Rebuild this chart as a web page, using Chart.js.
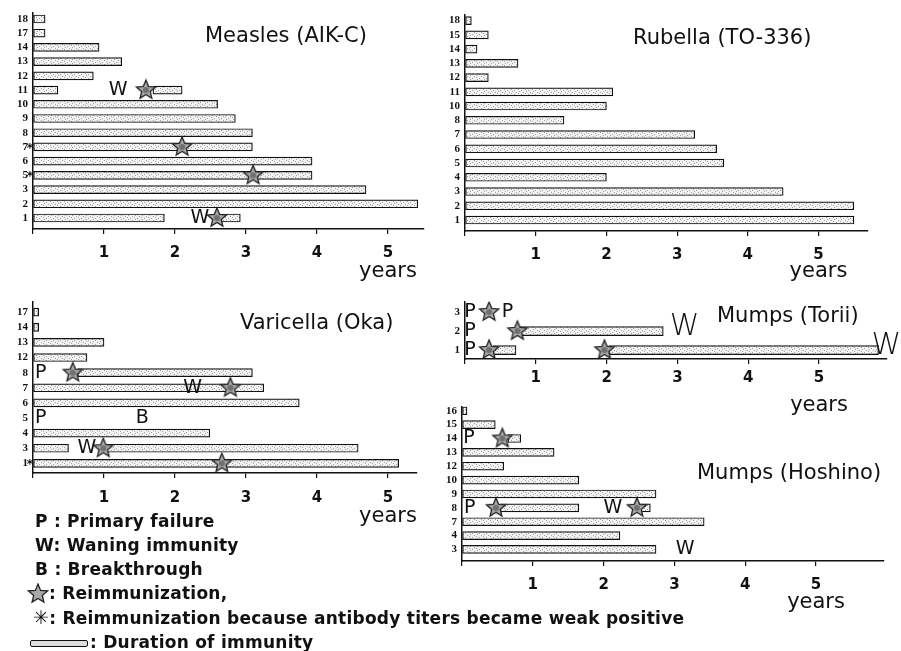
<!DOCTYPE html>
<html>
<head>
<meta charset="utf-8">
<script src="https://cdn.jsdelivr.net/npm/chart.js@4.4.1/dist/chart.umd.min.js"></script>
<style>
  html, body { margin: 0; padding: 0; background: #fff; }
  #page { position: relative; width: 901px; height: 651px; overflow: hidden; font-family: "DejaVu Sans", sans-serif; color: #111; }
  canvas { position: absolute; }
  .title { position: absolute; font-size: 21px; line-height: 21px; white-space: nowrap; }
  .key { position: absolute; left: 0; font-weight: bold; font-size: 17px; letter-spacing: 0.25px; line-height: 24px; white-space: nowrap; }
  .key svg, .key i { vertical-align: middle; }
  .key b { font-size: 19px; }
  .key i { display: inline-block; width: 56px; height: 5px; border: 1.5px solid #111; border-radius: 2px; background: #ddd; margin-right: 2px; }
</style>
</head>
<body>
<div id="page">
  <canvas id="measles" width="440" height="290" style="left:0;top:0"></canvas>
  <canvas id="rubella" width="461" height="290" style="left:440px;top:0"></canvas>
  <canvas id="varicella" width="440" height="245" style="left:0;top:290px"></canvas>
  <canvas id="torii" width="461" height="135" style="left:440px;top:290px"></canvas>
  <canvas id="hoshino" width="461" height="240" style="left:440px;top:395px"></canvas>

  <div class="title" style="left:205px;top:25px">Measles (AIK-C)</div>
  <div class="title" style="left:633px;top:27px">Rubella (TO-336)</div>
  <div class="title" style="left:240px;top:312px">Varicella (Oka)</div>
  <div class="title" style="left:717px;top:305px">Mumps (Torii)</div>
  <div class="title" style="left:697px;top:462px">Mumps (Hoshino)</div>

  <div class="key" style="left:35px;top:509px">P : Primary failure</div>
  <div class="key" style="left:35px;top:533px">W: Waning immunity</div>
  <div class="key" style="left:35px;top:557px">B : Breakthrough</div>
  <div class="key" style="left:27px;top:581px"><svg width="22" height="22" viewBox="-11 -11 22 22"><polygon points="0,-10 2.6,-3.6 9.5,-3.1 4.3,1.4 5.9,8.1 0,4.5 -5.9,8.1 -4.3,1.4 -9.5,-3.1 -2.6,-3.6" fill="#a8a8a8" stroke="#222" stroke-width="1.3"/></svg>: Reimmunization,</div>
  <div class="key" style="left:33px;top:605px"><b>&#x2733;</b>: Reimmunization because antibody titers became weak positive</div>
  <div class="key" style="left:30px;top:630px"><i></i>: Duration of immunity</div>
</div>

<script>
// x axis tick labels (years)
const yearTicks = [1, 2, 3, 4, 5];

// Measles (AIK-C): [subject, from, to] in years
const measlesRows = ['18', '17', '14', '13', '12', '11', '10', '9', '8', '7', '6', '5', '3', '2', '1'];
const measlesBars = [
  ['18', 0, 0.17], ['17', 0, 0.17], ['14', 0, 0.93], ['13', 0, 1.25], ['12', 0, 0.85],
  ['11', 0, 0.35], ['11', 1.69, 2.1], ['10', 0, 2.6], ['9', 0, 2.85], ['8', 0, 3.09],
  ['7', 0, 3.09], ['6', 0, 3.93], ['5', 0, 3.93], ['3', 0, 4.69], ['2', 0, 5.42],
  ['1', 0, 1.85], ['1', 2.65, 2.92]
];
const measlesStars = [['11', 1.59], ['7', 2.1], ['5', 3.1], ['1', 2.59]];
const measlesMarks = [['11', 1.2, 'W'], ['1', 2.35, 'W']];
const measlesWeak = ['7', '5'];

// Rubella (TO-336)
const rubellaRows = ['18', '15', '14', '13', '12', '11', '10', '8', '7', '6', '5', '4', '3', '2', '1'];
const rubellaYears = [0.09, 0.33, 0.17, 0.75, 0.33, 2.09, 2.0, 1.4, 3.25, 3.56, 3.66, 2.0, 4.5, 5.5, 5.5];

// Varicella (Oka)
const varicellaRows = ['17', '14', '13', '12', '8', '7', '6', '5', '4', '3', '1'];
const varicellaBars = [
  ['17', 0, 0.08], ['14', 0, 0.08], ['13', 0, 1.0], ['12', 0, 0.76], ['8', 0.63, 3.09],
  ['7', 0, 3.25], ['6', 0, 3.75], ['4', 0, 2.49], ['3', 0, 0.5], ['3', 1.04, 4.58], ['1', 0, 5.15]
];
const varicellaStars = [['8', 0.56], ['7', 2.78], ['3', 0.99], ['1', 2.66]];
const varicellaMarks = [['8', 0.11, 'P'], ['7', 2.25, 'W'], ['5', 0.11, 'P'], ['5', 1.54, 'B'], ['3', 0.76, 'W']];
const varicellaWeak = ['1'];

// Mumps (Torii)
const toriiRows = ['3', '2', '1'];
const toriiBars = [['2', 0.78, 2.8], ['1', 0.4, 0.72], ['1', 2.03, 5.84]];
const toriiStars = [['3', 0.34], ['2', 0.74], ['1', 0.34], ['1', 1.97]];
const toriiMarks = [['3', 0.07, 'P'], ['3', 0.6, 'P'], ['2', 0.07, 'P'], ['1', 0.07, 'P']];
const toriiScrawl = [['2', 3.1], ['1', 5.95]];

// Mumps (Hoshino)
const hoshinoRows = ['16', '15', '14', '13', '12', '10', '9', '8', '7', '4', '3'];
const hoshinoBars = [
  ['16', 0, 0.07], ['15', 0, 0.47], ['14', 0.65, 0.83], ['13', 0, 1.3], ['12', 0, 0.59],
  ['10', 0, 1.65], ['9', 0, 2.74], ['8', 0.54, 1.65], ['8', 2.5, 2.66], ['7', 0, 3.42],
  ['4', 0, 2.23], ['3', 0, 2.74]
];
const hoshinoStars = [['14', 0.57], ['8', 0.48], ['8', 2.47]];
const hoshinoMarks = [['14', 0.1, 'P'], ['8', 0.11, 'P'], ['8', 2.13, 'W'], ['3', 3.15, 'W']];

const INK = '#111';
const FONT = '"DejaVu Sans", sans-serif';

function makeStar(r) {
  const c = document.createElement('canvas');
  c.width = c.height = r * 2 + 4;
  const g = c.getContext('2d');
  g.translate(r + 2, r + 2);
  g.beginPath();
  for (let i = 0; i < 10; i++) {
    const rad = i % 2 ? r * 0.45 : r;
    const a = -Math.PI / 2 + i * Math.PI / 5;
    g.lineTo(rad * Math.cos(a), rad * Math.sin(a));
  }
  g.closePath();
  g.fillStyle = '#a8a8a8';
  g.fill();
  g.lineWidth = 1.3;
  g.strokeStyle = '#222';
  g.stroke();
  g.beginPath();
  g.arc(0, 0, r * 0.3, 0, Math.PI * 2);
  g.fillStyle = '#707070';
  g.fill();
  return c;
}
const starImg = makeStar(10);

function dots(ctx) {
  const c = document.createElement('canvas');
  c.width = 7; c.height = 4;
  const g = c.getContext('2d');
  g.fillStyle = '#f2f2f2';
  g.fillRect(0, 0, 7, 4);
  g.fillStyle = '#a0a0a0';
  g.fillRect(1, 1, 1, 1); g.fillRect(4, 2, 1, 1); g.fillRect(6, 0, 1, 1); g.fillRect(2, 3, 1, 1);
  return ctx.createPattern(c, 'repeat');
}

function makePanel(id, rows, bars, stars, marks, weak, scrawl, look) {
  const ctx = document.getElementById(id).getContext('2d');
  const idx = r => rows.indexOf(r);

  const notes = {
    id: 'notes_' + id,
    afterDatasetsDraw(chart) {
      const { ctx: g, chartArea, scales: { x, y } } = chart;
      g.save();
      g.fillStyle = INK;
      g.textAlign = 'center';
      g.textBaseline = 'middle';
      g.font = '19px ' + FONT;
      marks.forEach(m => g.fillText(m[2], x.getPixelForValue(m[1]), y.getPixelForValue(idx(m[0]))));
      g.font = '200 30px ' + FONT;
      scrawl.forEach(s => g.fillText('W', x.getPixelForValue(s[1]), y.getPixelForValue(idx(s[0])) - 4));
      g.font = 'bold 12px ' + FONT;
      weak.forEach(r => g.fillText('*', chartArea.left - 3, y.getPixelForValue(idx(r)) + 2));
      g.font = '21px ' + FONT;
      g.fillText('years', x.getPixelForValue(5), chartArea.bottom + look.yearsGap);
      g.restore();
    }
  };

  return new Chart(ctx, {
    type: 'bar',
    data: {
      datasets: [{
        type: 'bar',
        indexAxis: 'y',
        data: bars.map(b => ({ x: [b[1], b[2]], y: idx(b[0]) })),
        backgroundColor: dots(ctx),
        borderColor: INK,
        borderWidth: 1.2,
        borderSkipped: false,
        barThickness: look.bar,
        order: 2
      }, {
        type: 'scatter',
        indexAxis: 'y',
        data: stars.map(s => ({ x: s[1], y: idx(s[0]) })),
        pointStyle: starImg,
        pointRadius: 10,
        order: 1
      }]
    },
    options: {
      responsive: false,
      animation: false,
      indexAxis: 'y',
      layout: { padding: { top: look.padTop, right: look.padRight, left: 0, bottom: 0 } },
      plugins: { legend: { display: false }, tooltip: { enabled: false } },
      scales: {
        x: {
          type: 'linear',
          offset: false,
          min: 0,
          max: look.xMax,
          ticks: {
            stepSize: 1,
            includeBounds: false,
            autoSkip: false,
            maxRotation: 0,
            padding: look.tickPad,
            color: INK,
            font: { family: FONT, size: 15, weight: 'bold' },
            callback: v => yearTicks.includes(v) ? String(v) : ''
          },
          grid: { display: true, offset: false, drawOnChartArea: false, drawTicks: true, tickLength: 5, color: INK, lineWidth: 1.2 },
          border: { display: true, color: INK, width: 1.5 },
          afterFit: s => { s.height = look.xHeight; }
        },
        y: {
          type: 'linear',
          offset: false,
          reverse: true,
          min: look.yMin,
          max: look.yMax,
          ticks: {
            stepSize: 1,
            includeBounds: false,
            autoSkip: false,
            padding: 5,
            color: INK,
            font: { family: '"Liberation Serif", serif', size: 11, weight: 'bold' },
            callback: v => rows[v] !== undefined ? rows[v] : ''
          },
          grid: { display: false, offset: false, drawTicks: false, tickLength: 0 },
          border: { display: true, color: INK, width: 1.5 },
          afterFit: s => { s.width = look.yWidth; }
        }
      }
    },
    plugins: [notes]
  });
}

makePanel('measles', measlesRows, measlesBars, measlesStars, measlesMarks, measlesWeak, [], {
  padTop: 12.6, padRight: 16.5, yWidth: 33, xHeight: 61, xMax: 5.5,
  yMin: -0.45, yMax: 14.774, tickPad: 10, yearsGap: 43, bar: 8
});

makePanel('rubella', rubellaRows, rubellaRows.map((r, i) => [r, 0, rubellaYears[i]]), [], [], [], [], {
  padTop: 15, padRight: 33.7, yWidth: 25, xHeight: 59, xMax: 5.69,
  yMin: -0.39, yMax: 14.77, tickPad: 10, yearsGap: 41, bar: 8
});

makePanel('varicella', varicellaRows, varicellaBars, varicellaStars, varicellaMarks, varicellaWeak, [], {
  padTop: 5, padRight: 23.6, yWidth: 33, xHeight: 62, xMax: 5.4,
  yMin: -0.7, yMax: 10.637, tickPad: 11, yearsGap: 44, bar: 8
});

makePanel('torii', toriiRows, toriiBars, toriiStars, toriiMarks, [], toriiScrawl, {
  padTop: 5.45, padRight: 14, yWidth: 25, xHeight: 65.9, xMax: 5.96,
  yMin: -0.55, yMax: 2.476, tickPad: 5, yearsGap: 46, bar: 9
});

makePanel('hoshino', hoshinoRows, hoshinoBars, hoshinoStars, hoshinoMarks, [], [], {
  padTop: 5.7, padRight: 17, yWidth: 22, xHeight: 74, xMax: 5.96,
  yMin: -0.3, yMax: 10.833, tickPad: 10, yearsGap: 42, bar: 8
});
</script>
</body>
</html>
